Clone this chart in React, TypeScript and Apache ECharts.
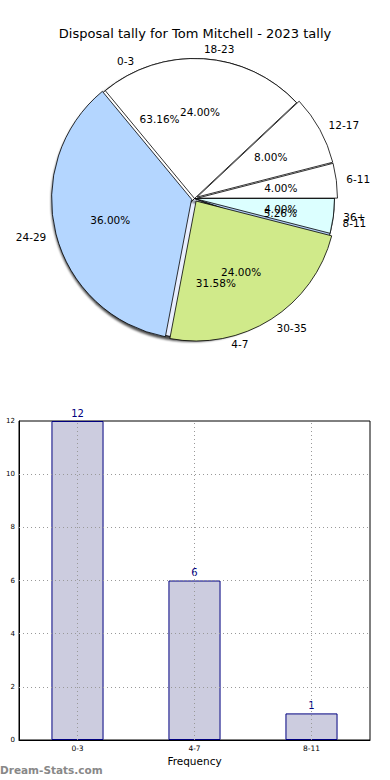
import React, { useEffect, useRef } from "react";
import * as echarts from "echarts";

// ---- data ----
const freqCats = ["0-3", "4-7", "8-11"];
const freqCounts = [12, 6, 1];
const rangeCats = ["6-11", "12-17", "18-23", "24-29", "30-35", "36+"];
const rangeCounts = [1, 2, 6, 9, 6, 1];
const yTicks = [2, 4, 6, 8, 10];

// ---- styles ----
const freqColors = ["#ffffff", "#e8eeff", "#b4cff5"];
const rangeColors = ["#ffffff", "#ffffff", "#ffffff", "#b4d6ff", "#d0ea8a", "#dcffff"];
const exploded = ["6-11", "12-17", "24-29", "30-35"];

const FONT = "DejaVu Sans";

export default function App() {
  const ref = useRef<HTMLDivElement>(null);
  useEffect(() => {
    if (!ref.current) return;
    const chart = echarts.init(ref.current, undefined, { renderer: "svg" });
    const center = [194.5, 198.5];
    const R = 140;
    const pct = (p: any) => p.percent.toFixed(2) + "%";
    const outerLabel = {
      show: true,
      position: "outside",
      formatter: "{b}",
      fontSize: 10.5,
      fontFamily: FONT,
      color: "#000",
      distanceToLabelLine: 0,
    };
    const labelLine = { show: false, length: 10, length2: 0 };
    const pieCommon = {
      type: "pie",
      center,
      startAngle: 0,
      clockwise: false,
      avoidLabelOverlap: false,
      labelLayout: { hideOverlap: false },
      emphasis: { disabled: true },
      silent: true,
      animation: false,
    };
    const option: any = {
      animation: false,
      backgroundColor: "#fff",
      title: {
        text: "Disposal tally for Tom Mitchell - 2023 tally",
        left: "center",
        top: 22,
        textStyle: { fontSize: 13, fontWeight: "normal", color: "#000", fontFamily: FONT },
      },
      graphic: [
        {
          type: "text",
          left: 0,
          top: 764,
          style: { text: "Dream-Stats.com", fontSize: 10.5, fontFamily: FONT, fill: "#888", fontWeight: "bold" },
        },
      ],
      grid: {
        left: 19,
        right: 20,
        top: 421,
        bottom: 40,
        outerBoundsMode: "none",
        containLabel: false,
        show: true,
        borderColor: "#000",
        borderWidth: 1,
        backgroundColor: "transparent",
      },
      xAxis: {
        type: "category",
        data: freqCats,
        name: "Frequency",
        nameLocation: "middle",
        nameGap: 15,
        nameTextStyle: { fontSize: 10.5, fontFamily: FONT, color: "#000" },
        axisLine: { lineStyle: { color: "#000" } },
        axisTick: { show: false },
        axisLabel: { fontSize: 7.5, fontFamily: FONT, color: "#000", margin: 4 },
        splitLine: { show: false },
      },
      yAxis: {
        type: "value",
        min: 0,
        max: 12,
        interval: 2,
        name: "Disposal Tally",
        nameLocation: "middle",
        nameGap: 20,
        nameTextStyle: { fontSize: 10.5, fontFamily: FONT, color: "#000" },
        axisLine: { show: true, lineStyle: { color: "#000" } },
        axisTick: { show: false },
        axisLabel: { fontSize: 7, fontFamily: FONT, color: "#000", margin: 4 },
        splitLine: { show: false },
      },
      series: [
        {
          ...pieCommon,
          name: "freq",
          radius: R,
          data: freqCats.map((c, i) => ({ name: c, value: freqCounts[i], itemStyle: { color: freqColors[i] } })),
          itemStyle: {
            borderColor: "#000",
            borderWidth: 0.8,
            shadowBlur: 2,
            shadowColor: "rgba(0,0,0,0.7)",
            shadowOffsetX: -3,
            shadowOffsetY: 3,
          },
          label: outerLabel,
          labelLine,
          z: 2,
        },
        {
          ...pieCommon,
          name: "range",
          radius: R,
          selectedMode: "multiple",
          selectedOffset: 3,
          data: rangeCats.map((c, i) => ({
            name: c,
            value: rangeCounts[i],
            selected: exploded.includes(c),
            itemStyle: { color: rangeColors[i] },
          })),
          itemStyle: { borderColor: "#000", borderWidth: 0.8 },
          label: outerLabel,
          labelLine,
          z: 3,
        },
        {
          ...pieCommon,
          name: "freqPct",
          radius: R * 1.2,
          data: freqCats.map((c, i) => ({ name: c, value: freqCounts[i] })),
          itemStyle: { color: "rgba(0,0,0,0)", borderWidth: 0 },
          label: { show: true, position: "inside", formatter: pct, fontSize: 10.5, fontFamily: FONT, color: "#000" },
          labelLine: { show: false },
          z: 4,
        },
        {
          ...pieCommon,
          name: "rangePct",
          radius: R * 1.2,
          data: rangeCats.map((c, i) => ({ name: c, value: rangeCounts[i] })),
          itemStyle: { color: "rgba(0,0,0,0)", borderWidth: 0 },
          label: { show: true, position: "inside", formatter: pct, fontSize: 10.5, fontFamily: FONT, color: "#000" },
          labelLine: { show: false },
          z: 4,
        },
        {
          type: "bar",
          data: freqCounts,
          barWidth: "44.5%",
          itemStyle: { color: "#ccccdf", borderColor: "#000080", borderWidth: 1 },
          label: { show: true, position: "top", color: "#000080", fontSize: 10, fontFamily: FONT, distance: 3 },
          emphasis: { disabled: true },
          markLine: {
            silent: true,
            symbol: ["none", "none"],
            label: { show: false },
            lineStyle: { type: [1, 3], color: "#999", width: 1 },
            emphasis: { disabled: true },
            data: [
              ...freqCats.map((c) => ({ xAxis: c })),
              ...yTicks.map((t) => ({ yAxis: t })),
            ],
          },
        },
      ],
    };
    chart.setOption(option);
    return () => chart.dispose();
  }, []);
  return <div ref={ref} style={{ position: "fixed", left: 0, top: 0, width: 390, height: 780 }} />;
}
